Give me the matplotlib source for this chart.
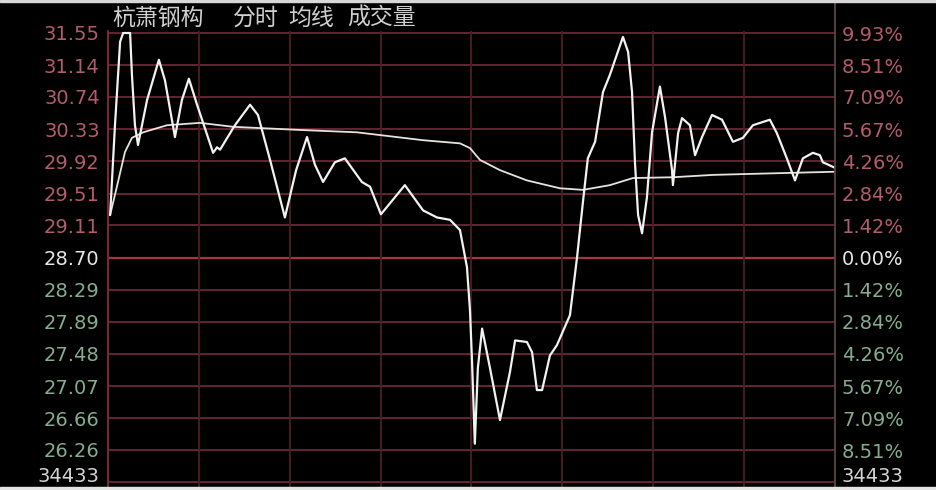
import matplotlib
matplotlib.use("Agg")
import matplotlib.pyplot as plt
from matplotlib.patches import Rectangle
from matplotlib.lines import Line2D

# ---------------- data ----------------
title_name = "杭萧钢构"
title_items = ["分时", "均线", "成交量"]

price_ticks = [31.55, 31.14, 30.74, 30.33, 29.92, 29.51, 29.11, 28.70,
               28.29, 27.89, 27.48, 27.07, 26.66, 26.26]
price_labels = ["31.55", "31.14", "30.74", "30.33", "29.92", "29.51", "29.11", "28.70",
                "28.29", "27.89", "27.48", "27.07", "26.66", "26.26"]
pct_labels = ["9.93%", "8.51%", "7.09%", "5.67%", "4.26%", "2.84%", "1.42%", "0.00%",
              "1.42%", "2.84%", "4.26%", "5.67%", "7.09%", "8.51%"]
volume_label = "34433"
prev_close = 28.70

minutes = [0.7, 2.3, 4.0, 5.0, 7.3, 7.9, 8.9, 9.9, 12.9, 16.8,
           18.8, 22.1, 24.4, 26.7, 29.4, 34.7, 36.0, 37.0, 41.9, 46.9,
           49.5, 53.5, 58.4, 62.1, 65.7, 68.3, 71.0, 74.9, 78.2, 83.8,
           86.5, 90.1, 98.0, 104.0, 108.6, 112.9, 116.2, 118.5, 119.5, 120.2,
           121.1, 122.1, 123.5, 126.1, 129.4, 132.7, 134.4, 138.3, 140.0, 141.6,
           143.3, 145.9, 148.2, 152.5, 154.8, 156.8, 158.4, 160.8, 163.4, 165.7,
           170.0, 171.7, 173.0, 174.0, 175.0, 176.3, 177.9, 179.6, 182.2, 183.9,
           186.2, 186.5, 188.2, 189.5, 192.1, 193.8, 196.1, 199.4, 202.7, 206.3,
           209.6, 212.9, 218.5, 220.8, 224.1, 226.8, 229.4, 232.7, 235.0, 236.0, 240.0]
prices = [29.24, 30.38, 31.44, 31.55, 31.55, 31.02, 30.38, 30.13, 30.70, 31.21,
          30.95, 30.23, 30.70, 30.97, 30.64, 30.03, 30.10, 30.07, 30.38, 30.64,
          30.51, 29.94, 29.21, 29.81, 30.23, 29.88, 29.66, 29.91, 29.96, 29.66,
          29.60, 29.25, 29.62, 29.30, 29.21, 29.18, 29.05, 28.58, 28.03, 27.36,
          26.34, 27.30, 27.80, 27.30, 26.64, 27.25, 27.65, 27.63, 27.50, 27.02,
          27.02, 27.46, 27.59, 27.97, 28.69, 29.41, 29.96, 30.17, 30.80, 31.02,
          31.50, 31.31, 30.80, 29.88, 29.24, 29.01, 29.46, 30.29, 30.87, 30.48,
          29.81, 29.62, 30.28, 30.47, 30.38, 30.00, 30.23, 30.51, 30.45, 30.17,
          30.22, 30.38, 30.45, 30.28, 29.96, 29.68, 29.96, 30.03, 30.00, 29.91, 29.84]

avg_minutes = [0.7, 3.3, 5.6, 7.9, 11.6, 19.5, 30.4, 41.3, 63.4, 82.2, 104.0,
               116.2, 119.5, 122.8, 129.4, 138.3, 149.2, 156.8, 165.7, 173.3,
               186.5, 199.7, 219.5, 240.0]
avg_prices = [29.24, 29.66, 30.04, 30.22, 30.29, 30.38, 30.41, 30.36, 30.32, 30.29, 30.19,
              30.15, 30.09, 29.94, 29.81, 29.68, 29.58, 29.56, 29.62, 29.71,
              29.72, 29.75, 29.77, 29.79]

session_minutes = 240
half_hour_marks = [30, 60, 90, 120, 150, 180, 210]

# ---------------- style ----------------
W, H = 937, 490
BG = "#000000"
RED_TXT = "#b45c6a"
GREEN_TXT = "#84ad8e"
WHITE_TXT = "#e6e6e6"
GRID_H = "#782a3a"
GRID_MID = "#a8324a"
GRID_V = "#4a2026"

plt.rcParams['font.family'] = ['DejaVu Sans']

fig = plt.figure(figsize=(W / 100, H / 100), dpi=100, facecolor=BG)

left_px, right_px = 108, 835
top_px, bottom_px = 31, 487
ax = fig.add_axes([left_px / W, (H - bottom_px) / H,
                   (right_px - left_px) / W, (bottom_px - top_px) / H])
ax.set_facecolor(BG)

step = prev_close * 0.0142
vol_row = price_ticks[-1] - step
span = price_ticks[0] - price_ticks[-1]
y_top = price_ticks[0] + 2 * span / 417
y_bot = y_top - (bottom_px - top_px) * span / 417
ax.set_ylim(y_bot, y_top)
ax.set_xlim(0, session_minutes)

for p in price_ticks + [vol_row]:
    ax.axhline(p, color=GRID_MID if p == prev_close else GRID_H,
               lw=1.6 if p == prev_close else 1.2, zorder=1)
for m in half_hour_marks:
    ax.axvline(m, color=GRID_V, lw=1.3, zorder=1)

ax.plot(avg_minutes, avg_prices, color="#e4e4dc", lw=1.3, zorder=3,
        solid_joinstyle="round")
ax.plot(minutes, prices, color="#f2f2f2", lw=1.6, zorder=4,
        solid_joinstyle="round", solid_capstyle="round")

tick_pos = price_ticks + [vol_row]


def style_labels(labels):
    for i, t in enumerate(labels):
        p = tick_pos[i]
        if i == len(tick_pos) - 1:
            t.set_color("#d4d4d4")
            t.set_verticalalignment("baseline")
        elif p > prev_close:
            t.set_color(RED_TXT)
        elif p < prev_close:
            t.set_color(GREEN_TXT)
        else:
            t.set_color(WHITE_TXT)


ax.set_yticks(tick_pos)
ax.set_yticklabels(price_labels + [volume_label])
ax.set_xticks([])
ax.tick_params(axis='y', length=0, pad=6, labelsize=14)
style_labels(ax.get_yticklabels())

ax2 = ax.twinx()
ax2.set_ylim(ax.get_ylim())
ax2.set_yticks(tick_pos)
ax2.set_yticklabels(pct_labels + [volume_label])
ax2.tick_params(axis='y', length=0, pad=5, labelsize=14)
style_labels(ax2.get_yticklabels())

for a in (ax, ax2):
    for s in a.spines.values():
        s.set_visible(False)
ax.spines['left'].set_visible(True)
ax.spines['left'].set_color("#8a2a3a")
ax.spines['left'].set_linewidth(1.3)

fig.add_artist(Line2D([right_px / W, right_px / W], [(H - bottom_px) / H, 1.0],
                      color="#5a4646", lw=1.3))

title_font = ['Noto Sans CJK SC', 'DejaVu Sans']
fig.text(112 / W, 1 - 18 / H, title_name, color="#cfcfcf", fontsize=16.5,
         family=title_font, va='center', ha='left')
for txt, xp in zip(title_items, [233, 288, 347]):
    fig.text(xp / W, 1 - 18 / H, txt, color="#cfcfcf", fontsize=16.5,
             family=title_font, va='center', ha='left')

fig.add_artist(Rectangle((0, 0), 1, 3 / H, transform=fig.transFigure,
                         color="#e4e4e4", zorder=10))
fig.add_artist(Rectangle((0, 1 - 2 / H), 1, 2 / H, transform=fig.transFigure,
                         color="#d8d8d8", zorder=10))

fig.savefig("out.png", dpi=100, facecolor=BG)
